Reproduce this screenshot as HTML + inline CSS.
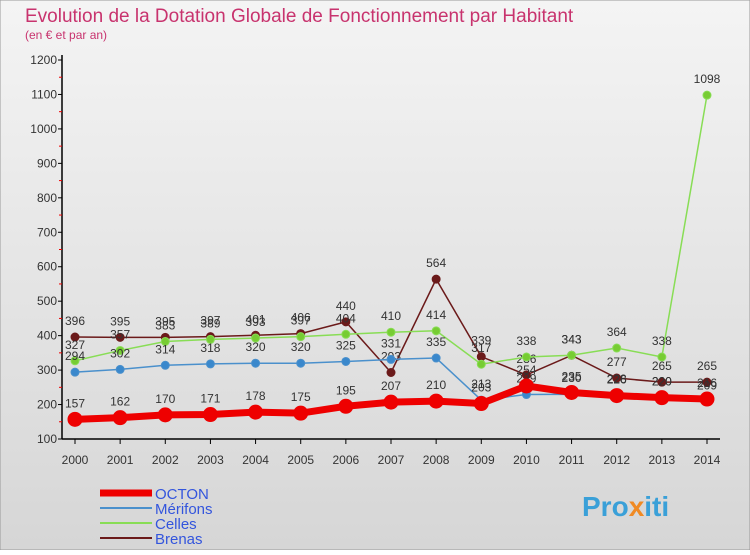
<!DOCTYPE html>
<html><head><meta charset="utf-8"><style>
body{margin:0;width:750px;height:550px;overflow:hidden;font-family:"Liberation Sans",sans-serif}
</style></head><body>
<svg width="750" height="550" xmlns="http://www.w3.org/2000/svg">
<defs>
<linearGradient id="bg" x1="0" y1="0" x2="0" y2="1"><stop offset="0" stop-color="#f4f4f4"/><stop offset="1" stop-color="#d6d6d6"/></linearGradient>
</defs>
<rect x="0" y="0" width="750" height="550" fill="url(#bg)" stroke="#999"/>
<text x="25" y="22" font-size="19" fill="#c8336e">Evolution de la Dotation Globale de Fonctionnement par Habitant</text>
<text x="25" y="39" font-size="12" fill="#c8336e">(en € et par an)</text>
<g id="axes"></g>
<g id="series"></g>
<g id="legend"></g>
<text x="582" y="516" font-size="28" font-weight="bold" fill="#3aa0d8">Pro<tspan fill="#f08a24">x</tspan>iti</text>
</svg>
<script>
const years=[2000,2001,2002,2003,2004,2005,2006,2007,2008,2009,2010,2011,2012,2013,2014];
const octon=[157,162,170,171,178,175,195,207,210,203,254,235,226,220,216];
const merifons=[294,302,314,318,320,320,325,331,335,213,229,230,228,220,209];
const celles=[327,357,383,389,393,397,404,410,414,317,338,343,364,338,1098];
const brenas=[396,395,395,397,401,406,440,293,564,339,286,343,277,265,265];
const yTicks=[100,200,300,400,500,600,700,800,900,1000,1100,1200];
const NS="http://www.w3.org/2000/svg";
const X=i=>75+i*(707-75)/14;
const Y=v=>439-(v-100)*(379/1100);
function mk(tag,attrs,parent,text){const e=document.createElementNS(NS,tag);for(const k in attrs)e.setAttribute(k,attrs[k]);if(text!==undefined)e.textContent=text;parent.appendChild(e);return e;}
const ax=document.getElementById('axes');
let a=mk('line',{x1:62,y1:55,x2:62,y2:439,stroke:'#000','stroke-width':1.5},ax);


a=mk('line',{x1:62,y1:439,x2:720,y2:439,stroke:'#000','stroke-width':1.5},ax);


yTicks.forEach((t,i)=>{
  mk('line',{x1:58,y1:Y(t),x2:62,y2:Y(t),stroke:'#000'},ax);
  if(i<yTicks.length-1)mk('line',{x1:59,y1:Y(t+50),x2:62,y2:Y(t+50),stroke:'#e00'},ax);
  const l=mk('text',{x:57,y:Y(t)+4,'font-size':12,'text-anchor':'end',fill:'#333'},ax,t);
  
  
});
years.forEach((yr,i)=>{
  mk('line',{x1:X(i),y1:439,x2:X(i),y2:444,stroke:'#000'},ax);
  const l=mk('text',{x:X(i),y:464,'font-size':12,'text-anchor':'middle',fill:'#333'},ax,yr);
  
  
});
const sg=document.getElementById('series');
function series(vals,color,lw,r,dot,name){
  const g=mk('g',{},sg);
  
  
  const p=mk('polyline',{points:vals.map((v,i)=>X(i)+','+Y(v)).join(' '),fill:'none',stroke:color,'stroke-width':lw},g);
  
  
  vals.forEach((v,i)=>{
    const c=mk('circle',{cx:X(i),cy:Y(v),r:r,fill:dot,stroke:color,'stroke-width':1},g);
    
    
    const t=mk('text',{x:X(i),y:Y(v)-12,'font-size':12,'text-anchor':'middle',fill:'#333'},g,v);
    
    
  });
}
series(brenas,'#6b1a1a',1.5,4,'#6b1a1a','brenas');
series(celles,'#88dd55',1.5,4,'#77cc33','celles');
series(merifons,'#4a90cc',1.5,4,'#3a88cc','merifons');
series(octon,'#ee0000',7,7,'#ee0000','octon');
const lg=document.getElementById('legend');
[['OCTON','#ee0000',7],['Mérifons','#4a90cc',2],['Celles','#88dd55',2],['Brenas','#6b1a1a',2]].forEach((d,i)=>{
  const y=493+i*15;
  const g=mk('g',{},lg);
  
  
  mk('line',{x1:100,y1:y,x2:152,y2:y,stroke:d[1],'stroke-width':d[2]},g);
  mk('text',{x:155,y:y+6,'font-size':15,fill:'#3355dd'},g,d[0]);
});
</script>
</body></html>
